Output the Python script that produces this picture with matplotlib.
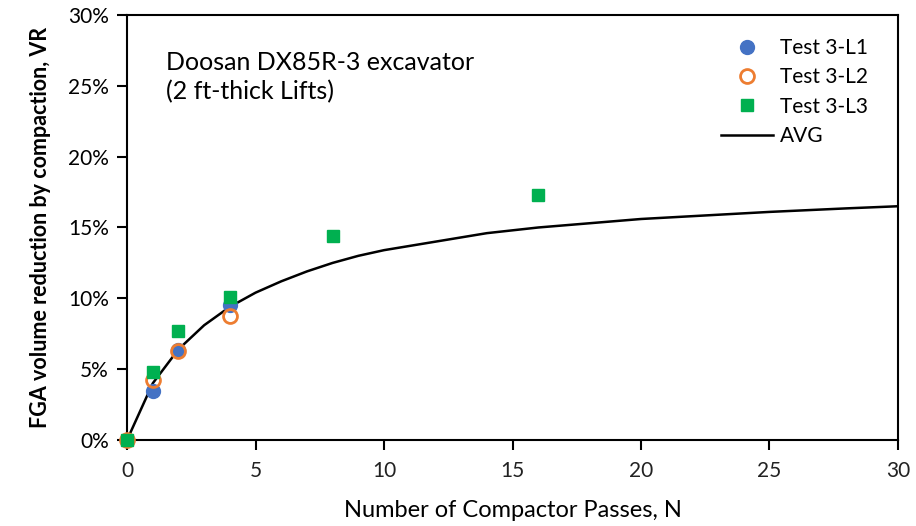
import matplotlib
matplotlib.use("Agg")
import matplotlib.pyplot as plt
from matplotlib.ticker import FuncFormatter

plt.rcParams['font.family'] = ['Lato', 'DejaVu Sans']

# Data (VR in %)
n_l1 = [0, 1, 2, 4]
vr_l1 = [0.0, 3.45, 6.35, 9.5]
n_l2 = [0, 1, 2, 4]
vr_l2 = [0.0, 4.2, 6.3, 8.75]
n_l3 = [0, 1, 2, 4, 8, 16]
vr_l3 = [0.0, 4.8, 7.7, 10.1, 14.4, 17.3]
n_avg = [0, 1, 2, 3, 4, 5, 6, 7, 8, 9, 10, 12, 14, 16, 18, 20, 22, 25, 28, 30]
vr_avg = [0.0, 4.0, 6.4, 8.1, 9.4, 10.4, 11.2, 11.9, 12.5, 13.0, 13.4,
          14.0, 14.6, 15.0, 15.3, 15.6, 15.8, 16.1, 16.35, 16.5]

x_ticks = [0, 5, 10, 15, 20, 25, 30]
y_ticks = [0, 5, 10, 15, 20, 25, 30]

fig = plt.figure(figsize=(9.16, 5.26), dpi=100)
ax = fig.add_axes([0.1387, 0.1635, 0.8416, 0.808])

ax.plot(n_avg, vr_avg, color='black', lw=1.8, label='AVG', zorder=2)
ax.plot(n_l1, vr_l1, 'o', color='#4472C4', ms=10, label='Test 3-L1', zorder=3, clip_on=False)
ax.plot(n_l2, vr_l2, 'o', mfc='none', mec='#ED7D31', mew=2, ms=10, label='Test 3-L2', zorder=4, clip_on=False)
ax.plot(n_l3, vr_l3, 's', color='#00B050', ms=9, label='Test 3-L3', zorder=5, clip_on=False)

ax.set_xlim(0, 30)
ax.set_ylim(0, 30)
ax.set_xticks(x_ticks)
ax.set_yticks(y_ticks)
ax.yaxis.set_major_formatter(FuncFormatter(lambda v, p: f"{v:.0f}%"))
for s in ax.spines.values():
    s.set_linewidth(1.5)
    s.set_color('black')
    s.set_zorder(1)
ax.tick_params(direction='out', length=7, width=1.5, labelsize=15, colors='black', pad=6)
ax.tick_params(axis='x', labelcolor='#222222', pad=8)

ax.set_xlabel('Number of Compactor Passes, N', fontsize=17, labelpad=14)
ax.set_ylabel('FGA volume reduction by compaction, VR', fontsize=15.5, fontweight='bold', labelpad=12)

ax.text(0.05, 0.915, 'Doosan DX85R-3 excavator\n(2 ft-thick Lifts)', transform=ax.transAxes,
        fontsize=18, va='top', ha='left', linespacing=1.3)

handles, labels = ax.get_legend_handles_labels()
order = [1, 2, 3, 0]
ax.legend([handles[i] for i in order], [labels[i] for i in order], loc='upper right',
          bbox_to_anchor=(0.985, 0.99), frameon=False, fontsize=15, handlelength=2.5,
          handletextpad=0.3, labelspacing=0.45)

fig.savefig('out.png', dpi=100)
